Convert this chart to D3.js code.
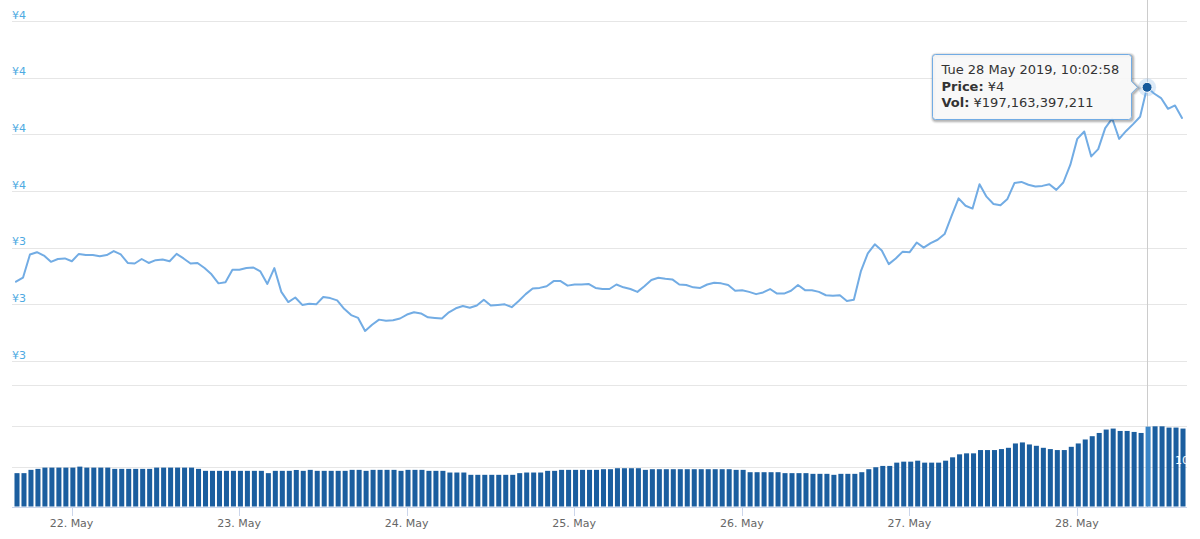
<!DOCTYPE html>
<html><head><meta charset="utf-8">
<script src="https://cdn.jsdelivr.net/npm/d3@7"></script>
<style>
html,body{margin:0;padding:0;background:#fff;}
svg{display:block;font-family:"DejaVu Sans",Verdana,sans-serif;}
</style></head><body>
<svg id="chart" width="1200" height="539"></svg>
<script>
// ---- data ----
const startTimeUTC = Date.UTC(2019, 4, 21, 16, 2, 58); // first hourly sample
const stepHours = 1;
const prices = [
3.340,3.347,3.388,3.392,3.386,3.375,3.380,3.381,3.376,3.389,
3.387,3.387,3.385,3.387,3.394,3.388,3.373,3.372,3.380,3.373,
3.378,3.379,3.376,3.389,3.381,3.372,3.373,3.364,3.353,3.337,
3.339,3.361,3.361,3.364,3.365,3.358,3.336,3.364,3.322,3.304,
3.312,3.299,3.301,3.300,3.313,3.311,3.307,3.292,3.281,3.276,
3.253,3.264,3.273,3.271,3.272,3.275,3.282,3.286,3.284,3.277,
3.276,3.275,3.286,3.293,3.297,3.294,3.298,3.308,3.298,3.299,
3.300,3.295,3.306,3.318,3.328,3.329,3.332,3.341,3.341,3.333,
3.335,3.335,3.336,3.329,3.327,3.327,3.335,3.330,3.327,3.322,
3.332,3.343,3.347,3.345,3.344,3.335,3.334,3.330,3.329,3.335,
3.338,3.337,3.334,3.324,3.325,3.322,3.318,3.321,3.327,3.319,
3.319,3.324,3.334,3.325,3.325,3.322,3.316,3.315,3.316,3.306,
3.308,3.358,3.390,3.406,3.395,3.371,3.381,3.393,3.392,3.409,
3.400,3.408,3.414,3.424,3.456,3.487,3.474,3.469,3.512,3.490,
3.477,3.475,3.486,3.514,3.516,3.511,3.508,3.509,3.512,3.502,
3.515,3.546,3.592,3.605,3.561,3.574,3.611,3.628,3.592,3.606,
3.618,3.631,3.683,3.672,3.664,3.645,3.651,3.629
];
// volumes in billions of yen
const volumesB = [
83.8,83.8,91.8,94.2,97.3,97.3,97.3,97.3,97.3,99.7,
97.3,97.3,97.3,97.3,94.2,94.2,94.2,94.2,94.2,94.2,
97.3,97.3,97.3,97.3,97.3,97.3,94.2,89.4,89.4,89.4,
89.4,89.4,89.4,89.4,89.4,89.4,83.8,89.4,89.4,89.4,
91.5,89.4,91.8,89.4,89.4,89.4,89.4,89.4,91.8,91.8,
89.4,91.8,91.8,91.8,91.8,89.4,91.8,91.8,91.8,89.4,
89.4,89.4,85.3,85.3,85.3,79.7,79.7,79.7,79.7,79.7,
79.7,79.7,83.8,85.3,85.3,85.3,89.4,89.4,91.8,91.8,
91.8,91.8,91.8,91.8,93.4,93.4,95.8,95.8,95.8,95.8,
91.8,93.4,93.4,93.4,93.4,93.4,93.4,93.4,93.4,93.4,
93.4,93.4,93.4,91.8,91.8,86.1,86.1,86.1,86.1,86.1,
83.8,83.8,83.8,83.8,82.1,82.1,82.1,79.7,82.1,82.1,
82.1,86.1,93.4,98.2,101.4,101.4,109.4,111.8,111.8,114.2,
109.4,109.4,109.4,114.2,122.4,129.7,132.1,132.1,140.1,140.1,
140.1,142.5,145.6,156.2,158.7,153.8,150.5,145.6,142.5,140.1,
140.1,148.0,156.2,165.9,173.9,181.8,190.1,192.5,186.7,186.7,
184.3,181.8,197.163397211,198.0,198.0,194.9,194.9,192.5
];
const priceTicks = [3.2, 3.3, 3.4, 3.5, 3.6, 3.7, 3.8];
const volumeGridTicks = [100, 200, 300];
const volumeLabelTicks = [100];
const hoverIndex = 162;

// ---- setup ----
const svg = d3.select("#chart");
const times = prices.map((_, i) => new Date(startTimeUTC + i * stepHours * 3600000));
const plotLeft = 12, plotRight = 1187;
const x = d3.scaleUtc().domain([times[0], times[times.length - 1]]).range([16, 1182]);
const yP = d3.scaleLinear().domain([3.2, 3.8]).range([361, 21]);
const yV = d3.scaleLinear().domain([0, 300]).range([507.5, 384.5]);
const lineColor = "#72ace4";
const barColor = "#1b5e9f";
const gridColor = "#e6e6e6";
const crisp = v => Math.round(v) + 0.5;

// gridlines - price
svg.append("g").selectAll("line").data(priceTicks).join("line")
  .attr("x1", plotLeft).attr("x2", plotRight)
  .attr("y1", d => crisp(yP(d))).attr("y2", d => crisp(yP(d)))
  .attr("stroke", gridColor).attr("stroke-width", 1);
// gridlines - volume
svg.append("g").selectAll("line").data(volumeGridTicks).join("line")
  .attr("x1", plotLeft).attr("x2", plotRight)
  .attr("y1", d => crisp(yV(d))).attr("y2", d => crisp(yV(d)))
  .attr("stroke", gridColor).attr("stroke-width", 1);

// price axis labels
const fmtP = d3.format(".0f");
svg.append("g").selectAll("text").data(priceTicks).join("text")
  .attr("x", plotLeft).attr("y", d => yP(d) - 2.5)
  .attr("font-size", 11).attr("fill", "#4eaae2")
  .text(d => "¥" + fmtP(d));

// crosshair
const hx = x(times[hoverIndex]);
svg.append("line").attr("x1", crisp(hx)).attr("x2", crisp(hx))
  .attr("y1", 0).attr("y2", 507).attr("stroke", "#cccccc").attr("stroke-width", 1);

// volume bars
const stepPx = x(times[1]) - x(times[0]);
const bw = stepPx * 0.72;
svg.append("g").selectAll("rect").data(volumesB).join("rect")
  .attr("x", (d, i) => x(times[i]) - bw / 2 + 1)
  .attr("width", bw)
  .attr("y", d => yV(d))
  .attr("height", d => yV(0) - 1 - yV(d))
  .attr("fill", (d, i) => i === hoverIndex ? "#3a86c8" : barColor);

// volume axis labels (white, inside right edge)
svg.append("g")
  .selectAll("text").data(volumeLabelTicks).join("text")
  .attr("x", 1175).attr("y", d => yV(d) - 3)
  .attr("font-size", 11).attr("fill", "#ffffff")
  .text(d => String(d));

// x axis
const xg = svg.append("g");
xg.append("line").attr("x1", plotLeft).attr("x2", plotRight)
  .attr("y1", 507.5).attr("y2", 507.5).attr("stroke", "#ccd6eb");
const days = d3.utcDay.range(times[0], times[times.length - 1]);
const fmtDay = d3.utcFormat("%-d. %b");
xg.selectAll("line.tick").data(days).join("line").attr("class", "tick")
  .attr("x1", d => crisp(x(d))).attr("x2", d => crisp(x(d)))
  .attr("y1", 507.5).attr("y2", 516).attr("stroke", "#ccd6eb");
xg.selectAll("text").data(days).join("text")
  .attr("x", d => x(d)).attr("y", 527).attr("text-anchor", "middle")
  .attr("font-size", 11).attr("fill", "#666666")
  .text(d => fmtDay(d));

// price line
const line = d3.line().x((d, i) => x(times[i])).y(d => yP(d));
svg.append("path").datum(prices).attr("d", line)
  .attr("fill", "none").attr("stroke", lineColor).attr("stroke-width", 2)
  .attr("stroke-linejoin", "round").attr("stroke-linecap", "round");

// hover marker
const hy = yP(prices[hoverIndex]);
svg.append("circle").attr("cx", hx).attr("cy", hy).attr("r", 9)
  .attr("fill", lineColor).attr("opacity", 0.25);
svg.append("circle").attr("cx", hx).attr("cy", hy).attr("r", 5)
  .attr("fill", "#15599b").attr("stroke", "#ffffff").attr("stroke-width", 1);

// tooltip
const tw = 199, th = 65;
const tx = Math.round(hx - 16 - tw) + 0.5, ty = Math.round(hy - 33) + 0.5;
const r = 3, ay = hy;
function boxPath(ox, oy) {
  const R = tx + tw + ox, B = ty + th + oy, L = tx + ox, T = ty + oy, a = ay + oy;
  return `M${L + r},${T} L${R - r},${T} Q${R},${T} ${R},${T + r} L${R},${a - 6} L${R + 6},${a} L${R},${a + 6} L${R},${B - r} Q${R},${B} ${R - r},${B} L${L + r},${B} Q${L},${B} ${L},${B - r} L${L},${T + r} Q${L},${T} ${L + r},${T} Z`;
}
const tg = svg.append("g");
[[3, 0.05], [2, 0.1], [1, 0.15]].forEach(([o, op]) => {
  tg.append("path").attr("d", boxPath(1, 1)).attr("fill", "none")
    .attr("stroke", "#000").attr("stroke-opacity", op).attr("stroke-width", o * 2);
});
tg.append("path").attr("d", boxPath(0, 0))
  .attr("fill", "rgba(247,247,247,0.92)").attr("stroke", lineColor).attr("stroke-width", 1);
const fmtTip = d3.utcFormat("%a %-d %b %Y, %H:%M:%S");
const fmtVol = d3.format(",.0f");
const t1 = tg.append("text").attr("x", tx + 9).attr("y", ty + 19.5)
  .attr("font-size", 13).attr("fill", "#333333").text(fmtTip(times[hoverIndex]));
const t2 = tg.append("text").attr("x", tx + 9).attr("y", ty + 36)
  .attr("font-size", 13).attr("fill", "#333333");
t2.append("tspan").attr("font-weight", "bold").text("Price:");
t2.append("tspan").text(" ¥" + fmtP(prices[hoverIndex]));
const t3 = tg.append("text").attr("x", tx + 9).attr("y", ty + 52.5)
  .attr("font-size", 13).attr("fill", "#333333");
t3.append("tspan").attr("font-weight", "bold").text("Vol:");
t3.append("tspan").text(" ¥" + fmtVol(Math.round(volumesB[hoverIndex] * 1e9)));
</script>
</body></html>
